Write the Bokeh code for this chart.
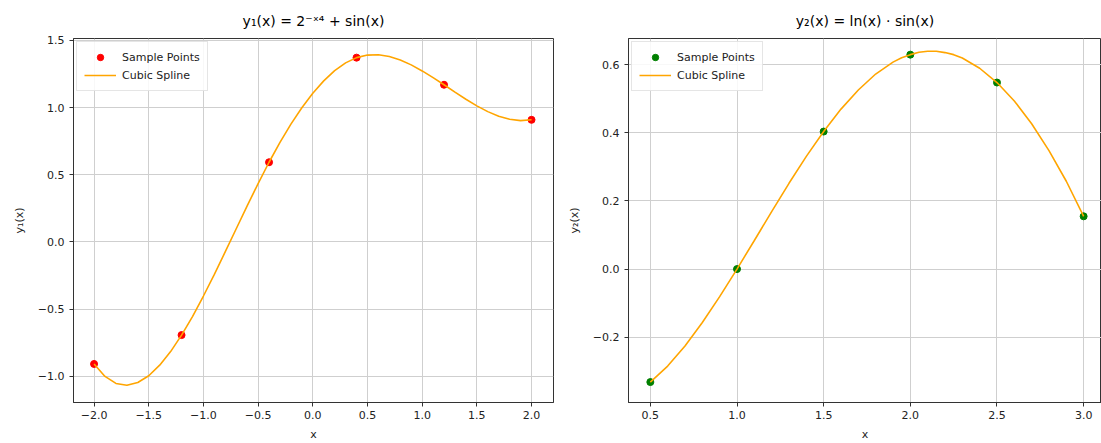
from bokeh.plotting import figure
from bokeh.layouts import row
from bokeh.models import FixedTicker, Range1d
from bokeh.embed import file_html
from bokeh.resources import INLINE

# ---------------- data ----------------
left_title = "y₁(x) = 2⁻ˣ⁴ + sin(x)"
right_title = "y₂(x) = ln(x) · sin(x)"

left_sample_x = [-2.0, -1.2, -0.4, 0.4, 1.2, 2.0]
left_sample_y = [-0.909, -0.694, 0.593, 1.372, 1.170, 0.909]

left_spline_x = [-2.0, -1.9, -1.8, -1.7, -1.6, -1.5, -1.4, -1.3, -1.2, -1.1,
                 -1.0, -0.9, -0.8, -0.7, -0.6, -0.5, -0.4, -0.3, -0.2, -0.1,
                 0.0, 0.1, 0.2, 0.3, 0.4, 0.5, 0.6, 0.7, 0.8, 0.9,
                 1.0, 1.1, 1.2, 1.3, 1.4, 1.5, 1.6, 1.7, 1.8, 1.9, 2.0]
left_spline_y = [-0.909, -1.002, -1.054, -1.068, -1.047, -0.997, -0.918, -0.817, -0.694, -0.556,
                 -0.403, -0.242, -0.073, 0.098, 0.268, 0.434, 0.593, 0.741, 0.877, 0.999,
                 1.107, 1.199, 1.275, 1.333, 1.372, 1.391, 1.394, 1.380, 1.354, 1.318,
                 1.273, 1.223, 1.170, 1.115, 1.062, 1.013, 0.970, 0.936, 0.913, 0.903, 0.909]

right_sample_x = [0.5, 1.0, 1.5, 2.0, 2.5, 3.0]
right_sample_y = [-0.332, 0.000, 0.404, 0.630, 0.548, 0.155]

right_spline_x = [0.5, 0.6, 0.7, 0.8, 0.9, 1.0, 1.1, 1.2, 1.3, 1.4,
                  1.5, 1.6, 1.7, 1.8, 1.9, 1.95, 2.0, 2.05, 2.1, 2.15, 2.2, 2.25,
                  2.3, 2.4, 2.5, 2.6, 2.7, 2.8, 2.9, 3.0]
right_spline_y = [-0.332, -0.285, -0.226, -0.157, -0.081, 0.000, 0.084, 0.169, 0.252, 0.331,
                  0.404, 0.470, 0.526, 0.573, 0.608, 0.621, 0.630, 0.637, 0.640, 0.640, 0.636, 0.630,
                  0.620, 0.590, 0.548, 0.494, 0.427, 0.348, 0.258, 0.155]

left_x_ticks = [-2.0, -1.5, -1.0, -0.5, 0.0, 0.5, 1.0, 1.5, 2.0]
left_x_labels = ["−2.0", "−1.5", "−1.0", "−0.5", "0.0", "0.5", "1.0", "1.5", "2.0"]
left_y_ticks = [-1.0, -0.5, 0.0, 0.5, 1.0, 1.5]
left_y_labels = ["−1.0", "−0.5", "0.0", "0.5", "1.0", "1.5"]
right_x_ticks = [0.5, 1.0, 1.5, 2.0, 2.5, 3.0]
right_x_labels = ["0.5", "1.0", "1.5", "2.0", "2.5", "3.0"]
right_y_ticks = [-0.2, 0.0, 0.2, 0.4, 0.6]
right_y_labels = ["−0.2", "0.0", "0.2", "0.4", "0.6"]

FONT = "DejaVu Sans"


def make_fig(width, mbl, mbr, xr, yr, title, ylabel, sx, sy, lx, ly,
             pcolor, xt, xl, yt, yl):
    p = figure(width=width, height=443, output_backend="svg", toolbar_location=None,
               x_range=Range1d(*xr), y_range=Range1d(*yr),
               min_border_left=mbl, min_border_right=mbr,
               min_border_top=37, min_border_bottom=33,
               background_fill_color="white", border_fill_color="white")
    p.title.text = title
    p.title.align = "center"
    p.title.text_font = FONT
    p.title.text_font_size = "14px"
    p.title.text_font_style = "normal"
    p.title.text_color = "black"
    p.title.standoff = 20

    p.outline_line_color = "#333333"
    p.outline_line_width = 1
    p.outline_line_alpha = 1

    p.xaxis.ticker = FixedTicker(ticks=xt)
    p.yaxis.ticker = FixedTicker(ticks=yt)
    p.xaxis.major_label_overrides = {v: s for v, s in zip(xt, xl)}
    p.yaxis.major_label_overrides = {v: s for v, s in zip(yt, yl)}
    p.xaxis.axis_label = "x"
    p.yaxis.axis_label = ylabel
    for ax in (p.xaxis, p.yaxis):
        ax.axis_line_color = "#333333"
        ax.major_tick_line_color = "#333333"
        ax.major_tick_out = 4
        ax.major_tick_in = 0
        ax.minor_tick_line_color = None
        ax.major_label_text_font = FONT
        ax.major_label_text_font_size = "11px"
        ax.major_label_text_color = "#222222"
        ax.axis_label_text_font = FONT
        ax.axis_label_text_font_size = "11px"
        ax.axis_label_text_font_style = "normal"
        ax.axis_label_text_color = "#222222"
    p.xaxis.major_label_standoff = 4
    p.xaxis.axis_label_standoff = 6
    p.yaxis.major_label_standoff = 5
    p.yaxis.axis_label_standoff = 9

    p.grid.grid_line_color = "#cfcfcf"
    p.grid.grid_line_width = 1

    p.scatter(sx, sy, size=7, fill_color=pcolor, line_color=pcolor,
              legend_label="Sample Points")
    p.line(lx, ly, line_color="orange", line_width=1.6, legend_label="Cubic Spline")

    lg = p.legend[0]
    lg.location = "top_left"
    lg.margin = 3
    lg.padding = 7
    lg.spacing = 2
    lg.glyph_width = 32
    lg.glyph_height = 16
    lg.label_height = 16
    lg.label_standoff = 6
    lg.label_text_font = FONT
    lg.label_text_font_size = "11px"
    lg.label_text_color = "#222222"
    lg.border_line_color = "#cccccc"
    lg.border_line_width = 1
    lg.background_fill_alpha = 0.85
    return p


p1 = make_fig(564, 73, 11, (-2.188, 2.201), (-1.196, 1.5145), left_title, "y₁(x)",
              left_sample_x, left_sample_y, left_spline_x, left_spline_y, "red",
              left_x_ticks, left_x_labels, left_y_ticks, left_y_labels)
p2 = make_fig(537, 60, 0, (0.374, 3.103), (-0.392, 0.6774), right_title, "y₂(x)",
              right_sample_x, right_sample_y, right_spline_x, right_spline_y, "green",
              right_x_ticks, right_x_labels, right_y_ticks, right_y_labels)

layout = row(p1, p2)
open("out.html", "w").write(file_html(layout, INLINE))
